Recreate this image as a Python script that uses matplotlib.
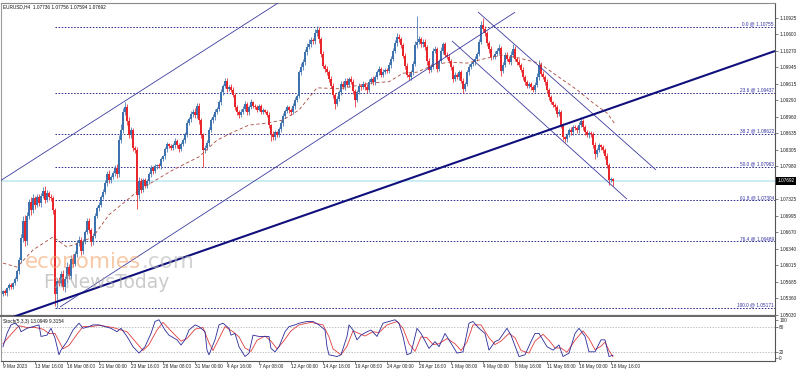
import numpy as np
import matplotlib
matplotlib.use("Agg")
import matplotlib.pyplot as plt
import matplotlib.transforms as mtransforms

plt.rcParams['font.family'] = ['Liberation Sans', 'DejaVu Sans']

W, H = 798, 372

# EURUSD H4 candles, 9 Mar - 18 May 2023, prices in pips (10550 = 1.0550)
first_open = 10545
closes = [
    10550, 10546, 10556, 10562, 10558, 10566,
    10575, 10590, 10612, 10655, 10690, 10650,
    10700, 10728, 10712, 10735, 10722, 10738,
    10725, 10740, 10750, 10732, 10745, 10738,
    10735, 10712, 10545, 10570, 10566, 10585,
    10558, 10575, 10598, 10580, 10615, 10605,
    10625, 10645, 10652, 10630, 10648, 10668,
    10690, 10672, 10648, 10660, 10700, 10715,
    10722, 10738, 10748, 10765, 10782, 10770,
    10776, 10784, 10795, 10782, 10850, 10870,
    10905, 10915, 10888, 10860, 10870, 10835,
    10830, 10742, 10768, 10752, 10770, 10760,
    10768, 10782, 10795, 10788, 10798, 10800,
    10798, 10812, 10818, 10832, 10842, 10838,
    10835, 10840, 10848, 10840, 10832, 10843,
    10850, 10862, 10885, 10892, 10902, 10905,
    10900, 10918, 10890, 10860, 10830, 10835,
    10845, 10870, 10890, 10896, 10905, 10912,
    10925, 10945, 10958, 10968, 10952, 10955,
    10950, 10940, 10915, 10905, 10900, 10906,
    10912, 10922, 10905, 10915, 10925, 10918,
    10915, 10910, 10918, 10905, 10910, 10906,
    10900, 10880, 10862, 10856, 10866, 10860,
    10872, 10885, 10898, 10908, 10915, 10910,
    10905, 10918, 10930, 10938, 10985, 10995,
    11005, 11025, 11035, 11040, 11048, 11046,
    11062, 11068, 11050, 11022, 10998, 10992,
    10985, 10972, 10958, 10940, 10922, 10932,
    10945, 10962, 10955, 10968, 10960, 10972,
    10966, 10948, 10930, 10945, 10958, 10955,
    10962, 10955, 10950, 10966, 10972, 10965,
    10975, 10985, 10992, 10980, 10986, 10990,
    10988, 11000, 11012, 11028, 11042, 11055,
    11050, 11038, 11018, 10998, 10980, 10975,
    10985, 11002, 11038, 11045, 11050, 11040,
    11045, 11035, 11008, 10990, 10996, 11028,
    11030, 10992, 11008, 11028, 11040, 11020,
    11015, 11008, 10995, 10972, 10980, 10975,
    10985, 10968, 10952, 10962, 10985, 10995,
    11002, 11006, 11012, 11022, 11045, 11078,
    11070, 11062, 11042, 11030, 11015, 11016,
    11022, 11028, 11032, 10988, 11000, 11020,
    11012, 11006, 11020, 11030, 11012, 11006,
    11000, 10990, 10975, 10965, 10958, 10962,
    10955, 10950, 10960, 10975, 11000, 10982,
    10975, 10965, 10950, 10935, 10925, 10920,
    10915, 10902, 10906, 10880, 10856, 10852,
    10860, 10870, 10866, 10876, 10875, 10870,
    10880, 10888, 10876, 10866, 10860, 10865,
    10862, 10840, 10822, 10830, 10840, 10836,
    10830, 10818, 10800, 10770, 10773.6, 10769.2,
]
upper_wicks = [
    3, 4, 3, 4, 5, 3,   4, 5, 6, 8, 10, 12,  8, 6, 10, 8, 5, 6,
    6, 5, 8, 10, 6, 5,  6, 5, 4, 6, 8, 5,    8, 6, 10, 6, 8, 10,
    5, 6, 8, 6, 5, 4,   6, 5, 4, 6, 5, 4,    5, 4, 6, 5, 6, 8,
    4, 5, 6, 8, 10, 12, 8, 10, 6, 8, 6, 5,   4, 6, 8, 6, 5, 4,
    4, 5, 6, 4, 5, 3,   4, 5, 3, 4, 5, 3,    4, 5, 6, 4, 5, 3,
    4, 5, 6, 4, 5, 6,   8, 6, 5, 4, 5, 6,    5, 6, 4, 5, 6, 4,
    5, 6, 4, 5, 6, 4,   6, 5, 4, 5, 4, 5,    5, 6, 4, 5, 6, 3,
    3, 4, 3, 4, 3, 2,   4, 5, 3, 6, 4, 3,    4, 5, 6, 4, 5, 3,
    4, 5, 6, 4, 5, 8,   6, 5, 8, 10, 6, 5,   8, 8, 6, 5, 6, 4,
    5, 4, 6, 5, 4, 6,   4, 5, 6, 5, 6, 4,    6, 5, 4, 5, 6, 4,
    5, 4, 6, 5, 4, 5,   5, 4, 6, 4, 5, 4,    4, 5, 6, 5, 6, 8,
    6, 5, 4, 6, 5, 4,   5, 6, 8, 52, 6, 5,   6, 5, 4, 6, 5, 4,
    6, 5, 4, 6, 5, 4,   5, 6, 4, 5, 6, 4,    4, 5, 6, 4, 5, 6,
    4, 5, 6, 4, 6, 8,   15, 6, 5, 4, 6, 4,   6, 5, 8, 4, 6, 5,
    6, 5, 8, 10, 6, 4,  5, 4, 6, 5, 4, 3,    4, 5, 6, 8, 10, 6,
    5, 4, 6, 4, 5, 3,   4, 5, 6, 4, 5, 3,    4, 5, 6, 5, 4, 3,
    6, 8, 5, 4, 5, 3,   4, 5, 6, 4, 5, 3,    5, 4, 6, 4, 3, 2.0,
]
lower_wicks = [
    4, 3, 5, 3, 4, 3,   3, 4, 5, 6, 8, 10,   8, 6, 10, 6, 8, 5,
    6, 8, 5, 6, 5, 6,   5, 8, 25, 28, 6, 5,  6, 10, 8, 6, 5, 6,
    5, 6, 5, 8, 6, 4,   5, 6, 8, 6, 5, 4,    6, 5, 4, 5, 6, 5,
    5, 4, 6, 8, 6, 5,   6, 5, 8, 6, 5, 6,    5, 29, 8, 6, 5, 4,
    5, 4, 6, 5, 4, 5,   4, 5, 4, 6, 5, 4,    5, 4, 6, 5, 6, 4,
    4, 5, 6, 4, 5, 6,   5, 6, 8, 6, 33, 5,   5, 6, 4, 5, 6, 4,
    5, 6, 5, 4, 6, 5,   4, 5, 6, 5, 6, 4,    5, 4, 6, 5, 4, 5,
    3, 4, 3, 4, 3, 3,   4, 5, 14, 6, 5, 4,   4, 5, 6, 4, 5, 6,
    5, 4, 6, 5, 4, 5,   6, 5, 6, 5, 6, 5,    5, 6, 8, 6, 5, 6,
    5, 6, 5, 6, 10, 5,  5, 6, 4, 6, 5, 4,    5, 6, 15, 5, 4, 5,
    4, 5, 6, 5, 4, 5,   5, 4, 6, 5, 4, 5,    5, 4, 6, 5, 4, 5,
    5, 6, 5, 6, 5, 6,   6, 5, 4, 6, 5, 6,    5, 6, 8, 6, 5, 4,
    5, 6, 5, 4, 6, 5,   4, 5, 6, 6, 5, 4,    6, 5, 8, 5, 4, 5,
    4, 5, 6, 4, 5, 4,   5, 6, 5, 6, 5, 4,    5, 4, 6, 10, 5, 4,
    4, 5, 6, 4, 5, 6,   5, 4, 6, 5, 4, 5,    6, 5, 4, 5, 6, 5,
    4, 5, 6, 5, 4, 5,   5, 6, 4, 6, 5, 6,    5, 4, 6, 5, 4, 5,
    5, 4, 6, 5, 4, 5,   5, 6, 10, 5, 4, 5,   5, 6, 5, 8, 4, 9.8,
]

# moving average (dashed): bar index -> pips
ma_bars = [0, 7, 15, 25, 32, 38, 45, 53, 62, 68, 85, 98, 107, 115, 123, 132, 140, 148,
           157, 168, 185, 193, 200, 207, 215, 223, 232, 242, 250, 258, 268, 278, 287,
           295, 302, 306]
ma_vals = [10606, 10598, 10632, 10658, 10638, 10646, 10658, 10702, 10731, 10751, 10791,
           10817, 10850, 10866, 10880, 10884, 10890, 10910, 10954, 10952, 10964, 10966,
           10983, 10985, 10999, 11005, 11003, 11013, 11019, 11013, 11003, 10975, 10950,
           10924, 10904, 10882]

# stochastic %K (blue) and %D (red)
k_bars = [0, 2, 4, 6, 8, 9, 12, 15, 18, 19, 22, 24, 26, 28, 29, 32, 35, 38, 40, 43,
          45, 48, 54, 57, 59, 62, 65, 68, 71, 74, 76, 78, 81, 83, 87, 89, 91, 93, 96, 98,
          101, 102, 103, 106, 108, 110, 113, 114, 116, 118, 121, 123, 125, 128, 130, 133,
          134, 136, 138, 141, 143, 146, 148, 152, 155, 158, 161, 162, 163, 167, 169, 172,
          173, 175, 177, 179, 182, 184, 187, 190, 193, 196, 198, 200, 202, 204, 207, 209,
          213, 216, 218, 221, 223, 227, 230, 233, 235, 238, 241, 243, 246, 248, 252, 254,
          258, 261, 264, 266, 268, 272, 275, 278, 280, 283, 286, 288, 291, 293, 296, 299,
          301, 303, 305]
k_vals = [33, 64, 84, 88, 80, 68, 76, 80, 84, 57, 60, 76, 53, 14, 25, 45, 72, 88, 76, 80,
          84, 84, 76, 68, 76, 57, 33, 18, 33, 64, 92, 96, 72, 60, 49, 37, 49, 72, 84, 80,
          68, 25, 14, 49, 84, 88, 76, 60, 64, 33, 10, 18, 60, 57, 57, 57, 29, 21, 33, 68,
          80, 84, 88, 92, 92, 84, 72, 33, 14, 10, 14, 57, 84, 72, 49, 60, 68, 72, 57, 88,
          92, 96, 88, 57, 14, 18, 76, 64, 29, 45, 33, 64, 49, 18, 21, 88, 92, 76, 64, 25,
          45, 49, 76, 60, 10, 14, 45, 64, 64, 33, 25, 37, 10, 18, 64, 76, 57, 21, 21, 49,
          49, 10, 13.09]
d_bars = [0, 4, 8, 12, 16, 20, 23, 26, 30, 33, 37, 40, 44, 48, 55, 59, 62, 66, 70, 73,
          77, 80, 84, 89, 92, 96, 100, 103, 105, 108, 111, 115, 118, 121, 124, 127, 131,
          134, 137, 140, 144, 148, 154, 160, 163, 165, 169, 172, 175, 178, 181, 185, 188,
          192, 197, 200, 203, 206, 209, 212, 215, 218, 222, 226, 229, 232, 235, 239, 243,
          246, 249, 253, 256, 259, 263, 266, 270, 273, 276, 279, 282, 286, 290, 293, 296,
          299, 301, 303, 305]
d_vals = [40, 62, 82, 78, 78, 74, 64, 64, 28, 36, 62, 80, 80, 83, 78, 72, 68, 46, 24, 38,
          72, 90, 70, 46, 52, 74, 78, 42, 24, 52, 80, 68, 56, 30, 22, 48, 58, 46, 28, 44,
          70, 84, 90, 84, 56, 28, 14, 34, 70, 64, 58, 68, 66, 84, 92, 76, 40, 22, 56, 54,
          38, 40, 52, 40, 24, 44, 84, 84, 54, 38, 46, 64, 54, 24, 18, 46, 62, 48, 30, 30,
          20, 48, 70, 52, 26, 34, 44, 24, 9.32]

date_labels = ["9 Mar 2023", "13 Mar 16:00", "16 Mar 08:00", "21 Mar 00:00", "23 Mar 16:00",
               "28 Mar 08:00", "31 Mar 00:00", "4 Apr 16:00", "7 Apr 08:00", "12 Apr 00:00",
               "14 Apr 16:00", "19 Apr 08:00", "24 Apr 00:00", "26 Apr 16:00", "1 May 08:00",
               "4 May 00:00", "8 May 16:00", "11 May 08:00", "16 May 00:00", "18 May 16:00"]
price_labels = ["1.05030", "1.05360", "1.05685", "1.06015", "1.06340", "1.06670", "1.06995",
                "1.07325", "1.07980", "1.08305", "1.08635", "1.08960", "1.09290", "1.09615",
                "1.09945", "1.10270", "1.10600", "1.10925"]
last_price = "1.07692"
header = "EURUSD,H4  1.07736 1.07756 1.07594 1.07692"
stoch_title = "Stoch(5,3,3) 13.0949 9.3154"
stoch_labels = ["100", "80", "20", "0"]

fib_levels = ["0.0", "23.6", "38.2", "50.0", "61.8", "76.4", "100.0"]
fib_prices = ["1.10755", "1.09437", "1.08622", "1.07963", "1.07304", "1.06489", "1.05171"]
fib_start = 26

# hand-drawn lines: (bar, pips) end points
asc_upper = [(-1.5, 10769), (139, 11126)]
asc_lower = [(28.5, 10519), (256, 11104)]
desc_upper = [(237.5, 11104.5), (326.5, 10791)]
desc_lower = [(224.5, 11047), (312, 10733)]
trend_line = [(5, 10499), (386, 11027)]

BULL = "#3d72ae"
BEAR = "#e8262b"
CHAN = "#3b3ba0"
NAVY = "#10107c"
FIB = "#2d2d8c"
MA_C = "#a8483c"
FS = 3.4

fig = plt.figure(figsize=(W / 100, H / 100), dpi=100)
ax = fig.add_axes([1 / W, 1 - 316 / H, 774 / W, 313 / H])
ax2 = fig.add_axes([1 / W, 1 - 361 / H, 774 / W, 44 / H])

x = np.arange(len(closes))
c = np.array(closes, dtype=float)
o = np.concatenate([[first_open], c[:-1]])
hi = np.maximum(o, c) + np.array(upper_wicks)
lo = np.minimum(o, c) - np.array(lower_wicks)
cols = np.where(c >= o, BULL, BEAR)

ax.axhline(float(last_price) * 1e4, color="#c8ecf4", lw=1.3, zorder=1)
ax.vlines(x, lo, hi, colors=cols, lw=0.55, zorder=3)
ax.bar(x, np.maximum(np.abs(c - o), 0.9), bottom=np.minimum(o, c), width=0.72,
       color=cols, lw=0, zorder=3)
ax.plot(ma_bars, ma_vals, color=MA_C, lw=0.6, ls=(0, (4, 3)), zorder=4)

for line, col, lw in [(asc_upper, CHAN, 0.6), (asc_lower, CHAN, 0.6),
                      (desc_upper, CHAN, 0.6), (desc_lower, CHAN, 0.6),
                      (trend_line, NAVY, 1.5)]:
    (x0, y0), (x1, y1) = line
    ax.plot([x0, x1], [y0, y1], color=col, lw=lw, zorder=5, solid_capstyle="butt")

for lev, pr in zip(fib_levels, fib_prices):
    p = float(pr) * 1e4
    ax.hlines(p, fib_start, 386, colors=FIB, lw=0.7, linestyles=(0, (1.6, 1.6)), zorder=2)
    ax.text(385.5, p + 1, f"{lev} @ {pr}", fontsize=FS, color="#3030a0",
            ha="right", va="bottom", zorder=6)

ax.set_xlim(-1, 386)
ax.set_ylim(10501.0, 11122.3)
ax.set_xticks([])
ax.yaxis.tick_right()
ax.set_yticks([float(s) * 1e4 for s in price_labels])
ax.set_yticklabels(price_labels)
ax.tick_params(axis="y", labelsize=FS, length=2, width=0.4, pad=1, colors="#222222")
for side, col, lw in [("left", "#9a9a9a", 0.8), ("top", "#8a8a8a", 0.8),
                      ("right", "#555555", 0.8), ("bottom", "#6a6a6a", 1.6)]:
    ax.spines[side].set_color(col)
    ax.spines[side].set_linewidth(lw)

trans = mtransforms.blended_transform_factory(ax.transAxes, ax.transData)
ax.text(1.003, float(last_price) * 1e4, last_price, transform=trans, fontsize=FS,
        color="white", ha="left", va="center",
        bbox=dict(boxstyle="square,pad=0.25", fc="black", ec="black", lw=0))

# stochastic panel
ax2.axhline(80, color="#a8a8a8", lw=0.5, ls=(0, (2, 2)))
ax2.axhline(20, color="#a8a8a8", lw=0.5, ls=(0, (2, 2)))
ax2.plot(d_bars, d_vals, color="#e03c3c", lw=0.6)
ax2.plot(k_bars, k_vals, color="#2a2a9a", lw=0.6)
ax2.set_xlim(-1, 386)
ax2.set_ylim(-0.5, 102.5)
ax2.yaxis.tick_right()
# 100 and 0 labels sit a little inside the panel, as in the terminal
ax2.set_yticks([95, 80, 20, 7])
ax2.set_yticklabels(stoch_labels)
ax2.tick_params(axis="y", labelsize=FS, length=2, width=0.4, pad=1, colors="#222222")
ax2.set_xticks(np.arange(len(date_labels)) * 16)
ax2.set_xticklabels(date_labels, ha="left")
ax2.tick_params(axis="x", labelsize=FS, length=2, width=0.4, pad=0.5, colors="#222222")
ax2.spines["top"].set_visible(False)
for side, col in [("left", "#9a9a9a"), ("right", "#555555"), ("bottom", "#555555")]:
    ax2.spines[side].set_color(col)
    ax2.spines[side].set_linewidth(0.8)

fig.text(3 / W, 1 - 7 / H, header, fontsize=FS, color="#111111", va="center")
fig.text(3 / W, 1 - 322 / H, stoch_title, fontsize=FS, color="#111111", va="center")

# watermark
t1 = fig.text(25 / W, 1 - 268 / H, "economies", fontsize=15.5, color="#f3a66c",
              alpha=0.6, family="DejaVu Sans", zorder=10)
fig.canvas.draw()
bb = t1.get_window_extent()
fig.text(bb.x1 / W, 1 - 268 / H, ".com", fontsize=15.5, color="#b8b8b8", alpha=0.6,
         family="DejaVu Sans", zorder=10)
fig.text(43 / W, 1 - 288 / H, "FxNewsToday", fontsize=13.4, color="#a8a8a8", alpha=0.6,
         family="DejaVu Sans", zorder=10)

fig.savefig("out.png", dpi=100)
